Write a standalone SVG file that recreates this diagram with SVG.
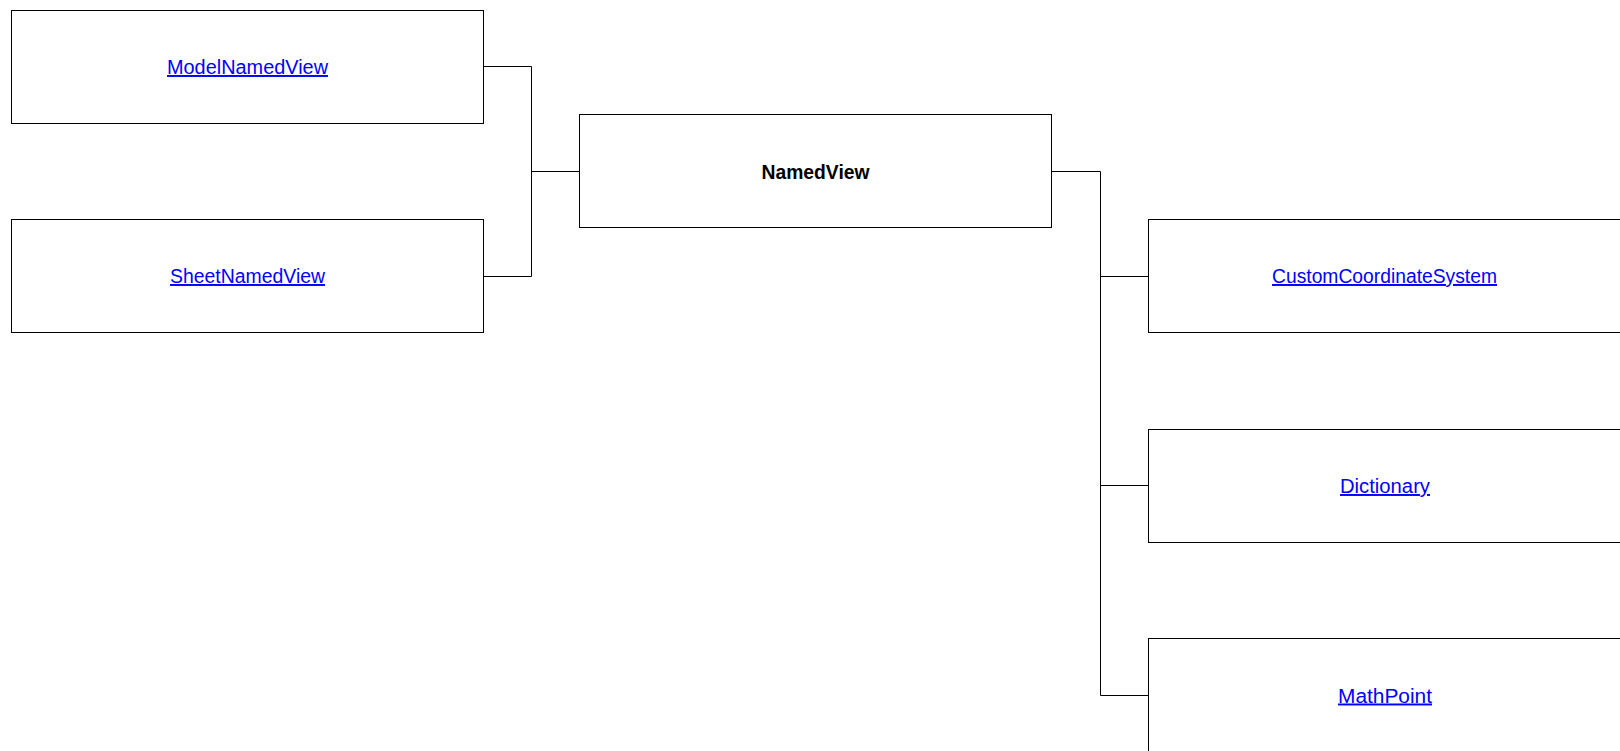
<svg xmlns="http://www.w3.org/2000/svg" width="1620" height="751" viewBox="0 0 1620 751">
<style>
.box{fill:#fff;stroke:#000;stroke-width:1}
.conn{fill:none;stroke:#000;stroke-width:1}
.t{font-family:"Liberation Sans",Arial,sans-serif;font-size:19.5px;text-anchor:middle}
.link{fill:#0000ff;text-decoration:underline}
.bold{font-weight:bold;fill:#000}
</style>
<rect width="1620" height="751" fill="#fff"/>
<g id="connectors">
<path class="conn" d="M483.5 66.5H531.5V276.5H483.5"/>
<path class="conn" d="M531.5 171.5H579.5"/>
<path class="conn" d="M1051.5 171.5H1100.5V695.5H1148.5"/>
<path class="conn" d="M1100.5 276.5H1148.5"/>
<path class="conn" d="M1100.5 485.5H1148.5"/>
</g>
<g id="ModelNamedView">
<rect class="box" x="11.5" y="10.5" width="472" height="113"/>
<text class="t link" x="247.5" y="74" textLength="161" lengthAdjust="spacingAndGlyphs">ModelNamedView</text>
</g>
<g id="SheetNamedView">
<rect class="box" x="11.5" y="219.5" width="472" height="113"/>
<text class="t link" x="247.5" y="283" textLength="155" lengthAdjust="spacingAndGlyphs">SheetNamedView</text>
</g>
<g id="NamedView">
<rect class="box" x="579.5" y="114.5" width="472" height="113"/>
<text class="t bold" x="815.5" y="178.5" textLength="108" lengthAdjust="spacingAndGlyphs">NamedView</text>
</g>
<g id="CustomCoordinateSystem">
<rect class="box" x="1148.5" y="219.5" width="472" height="113"/>
<text class="t link" x="1384.5" y="283" textLength="225" lengthAdjust="spacingAndGlyphs">CustomCoordinateSystem</text>
</g>
<g id="Dictionary">
<rect class="box" x="1148.5" y="429.5" width="472" height="113"/>
<text class="t link" x="1385" y="493" textLength="90" lengthAdjust="spacingAndGlyphs">Dictionary</text>
</g>
<g id="MathPoint">
<rect class="box" x="1148.5" y="638.5" width="472" height="113"/>
<text class="t link" x="1385" y="702.5" textLength="94" lengthAdjust="spacingAndGlyphs">MathPoint</text>
</g>
</svg>
